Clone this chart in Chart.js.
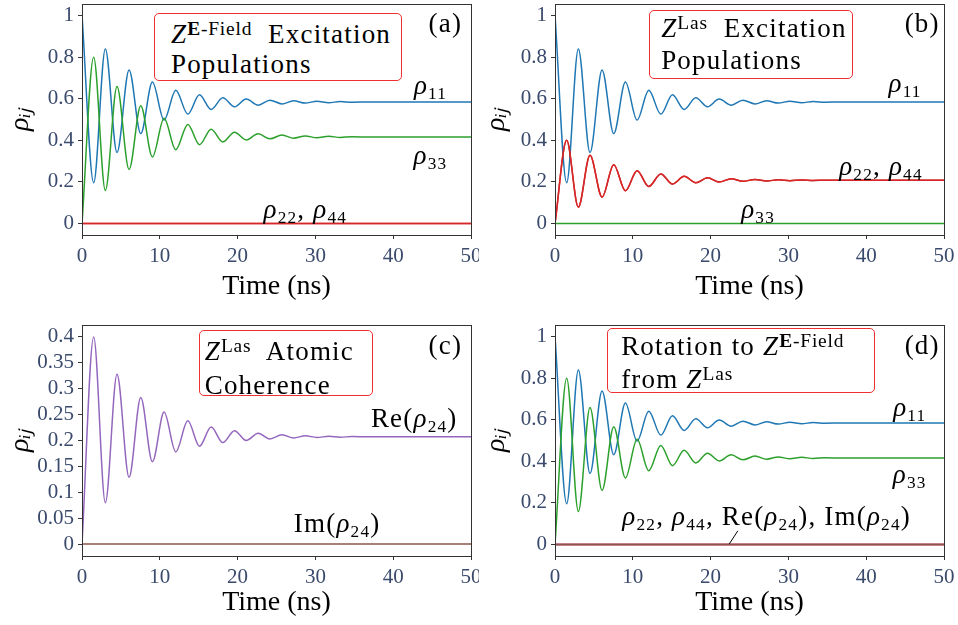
<!DOCTYPE html>
<html>
<head>
<meta charset="utf-8">
<title>Excitation populations</title>
<script src="https://cdn.jsdelivr.net/npm/chart.js@4.4.1/dist/chart.umd.min.js"></script>
<style>
    body { margin: 0; background: #fff; font-family: 'Liberation Serif', serif; }
    #fig { position: relative; width: 958px; height: 625px; overflow: hidden; }
    .panel { position: absolute; overflow: hidden; }
    .panel canvas { position: absolute; left: 0; top: 0; }
    .note {
        position: absolute;
        white-space: nowrap;
        font-family: 'Liberation Serif', serif;
        font-size: 27px;
        letter-spacing: 1.2px;
        line-height: 1;
        color: #000;
        transform: translate(-50%, -50%);
    }
    .note sub { font-size: 0.64em; vertical-align: -0.3em; line-height: 0; }
    .note sup { font-size: 0.72em; vertical-align: 0.42em; line-height: 0; letter-spacing: 0.8px; }
    .box {
        transform: none;
        border: 1.3px solid #f03030;
        border-radius: 5px;
        background: #fff;
        box-sizing: border-box;
    }
    #boxA { width: 248px; height: 68px; padding: 5px 0 0 16px; line-height: 30px; }
    #boxB { width: 204px; height: 69px; padding: 1px 0 0 11px; line-height: 32px; }
    #boxC { width: 174px; height: 66px; padding: 3px 0 0 5px; line-height: 34px; }
    #boxD { width: 268px; height: 65px; padding: 1px 0 0 13px; line-height: 33px; }
</style>
</head>
<body>
<div id="fig">
    <div class="panel" id="panelA" style="left:0;top:0;width:479px;height:310px">
        <canvas id="chartA"></canvas>
        <div class="note box" id="boxA"><div><i>Z</i><sup><b>E</b>-Field</sup>&nbsp; Excitation</div><div>Populations</div></div>
        <div class="note" id="tagA">(a)</div>
        <div class="note" id="a11"><i>ρ</i><sub>11</sub></div>
        <div class="note" id="a33"><i>ρ</i><sub>33</sub></div>
        <div class="note" id="a2244"><i>ρ</i><sub>22</sub>, <i>ρ</i><sub>44</sub></div>
    </div>
    <div class="panel" id="panelB" style="left:479px;top:0;width:479px;height:310px">
        <canvas id="chartB"></canvas>
        <div class="note box" id="boxB"><div><i>Z</i><sup>Las</sup>&nbsp; Excitation</div><div>Populations</div></div>
        <div class="note" id="tagB">(b)</div>
        <div class="note" id="b11"><i>ρ</i><sub>11</sub></div>
        <div class="note" id="b2244"><i>ρ</i><sub>22</sub>, <i>ρ</i><sub>44</sub></div>
        <div class="note" id="b33"><i>ρ</i><sub>33</sub></div>
    </div>
    <div class="panel" id="panelC" style="left:0;top:310px;width:479px;height:315px">
        <canvas id="chartC"></canvas>
        <div class="note box" id="boxC"><div><i>Z</i><sup>Las</sup>&nbsp; Atomic</div><div>Coherence</div></div>
        <div class="note" id="tagC">(c)</div>
        <div class="note" id="cRe">Re(<i>ρ</i><sub>24</sub>)</div>
        <div class="note" id="cIm">Im(<i>ρ</i><sub>24</sub>)</div>
    </div>
    <div class="panel" id="panelD" style="left:479px;top:310px;width:479px;height:315px">
        <canvas id="chartD"></canvas>
        <div class="note box" id="boxD"><div>Rotation to <i>Z</i><sup><b>E</b>-Field</sup></div><div>from <i>Z</i><sup>Las</sup></div></div>
        <div class="note" id="tagD">(d)</div>
        <div class="note" id="d11"><i>ρ</i><sub>11</sub></div>
        <div class="note" id="d33"><i>ρ</i><sub>33</sub></div>
        <div class="note" id="dZero"><i>ρ</i><sub>22</sub>, <i>ρ</i><sub>44</sub>, Re(<i>ρ</i><sub>24</sub>), Im(<i>ρ</i><sub>24</sub>)</div>
    </div>
</div>
<script>
// time of each turning point (ns)
const timeNs = [0, 1.5, 3.0, 4.5, 6.05, 7.55, 9.05, 10.55, 12.05, 13.6, 15.1, 16.6, 18.1, 19.6,
    21.1, 22.65, 24.15, 25.7, 27.2, 28.7, 30.2, 31.7, 33.2, 34.7, 37, 40, 45, 50];
const rho11 = [1, 0.196, 0.839, 0.341, 0.738, 0.432, 0.68, 0.497, 0.641, 0.526, 0.619, 0.548, 0.604, 0.561,
    0.598, 0.569, 0.593, 0.575, 0.59, 0.579, 0.588, 0.581, 0.586, 0.583, 0.584, 0.584, 0.584, 0.584];
const rho33 = [0, 0.799, 0.159, 0.658, 0.26, 0.566, 0.32, 0.506, 0.355, 0.476, 0.379, 0.453, 0.392, 0.439,
    0.402, 0.431, 0.407, 0.425, 0.41, 0.421, 0.412, 0.419, 0.414, 0.417, 0.416, 0.416, 0.416, 0.416];
const rho22 = [0, 0.40, 0.079, 0.328, 0.127, 0.283, 0.158, 0.254, 0.178, 0.238, 0.19, 0.227, 0.196, 0.22,
    0.2, 0.215, 0.203, 0.212, 0.205, 0.21, 0.206, 0.209, 0.207, 0.2085, 0.208, 0.208, 0.208, 0.208];
const reRho24 = [0, 0.40, 0.08, 0.328, 0.129, 0.283, 0.159, 0.255, 0.178, 0.238, 0.189, 0.226, 0.196, 0.219,
    0.2, 0.214, 0.203, 0.211, 0.205, 0.209, 0.206, 0.208, 0.2065, 0.2075, 0.207, 0.207, 0.207, 0.207];

// flat lines that stay on zero
const flatTime = [0, 50];
const flatZero = [0, 0];

const xTicks = [0, 10, 20, 30, 40, 50];
const yTicksPop = [0, 0.2, 0.4, 0.6, 0.8, 1];
const yTicksCoh = [0, 0.05, 0.1, 0.15, 0.2, 0.25, 0.3, 0.35, 0.4];

const BLUE = '#1f77b4', GREEN = '#2ca02c', RED = '#d62728', PURPLE = '#9467bd', BROWN = '#8c564b';
const SPINE = '#333333';
const TICK_COLOR = '#3a4a6c';
const SERIF = "'Liberation Serif', serif";

Chart.defaults.font.family = SERIF;

// frame on all four sides, html notes pinned to data coordinates, optional leader line
const figurePlugin = {
    id: 'figure',
    afterDraw(chart, args, opts) {
        const {ctx, chartArea} = chart;
        const {x, y} = chart.scales;
        ctx.save();
        ctx.strokeStyle = SPINE;
        ctx.lineWidth = 1;
        ctx.strokeRect(Math.round(chartArea.left) + 0.5, Math.round(chartArea.top) + 0.5,
            Math.round(chartArea.width), Math.round(chartArea.height));
        if (opts.leader) {
            const [p, q] = opts.leader;
            ctx.strokeStyle = '#000';
            ctx.beginPath();
            ctx.moveTo(x.getPixelForValue(p[0]), y.getPixelForValue(p[1]));
            ctx.lineTo(x.getPixelForValue(q[0]), y.getPixelForValue(q[1]));
            ctx.stroke();
        }
        ctx.restore();
        (opts.notes || []).forEach(n => {
            const el = document.getElementById(n.id);
            el.style.left = x.getPixelForValue(n.t) + 'px';
            el.style.top = y.getPixelForValue(n.v) + 'px';
        });
    }
};

function series(t, v, color) {
    return {
        data: t.map((tt, i) => ({x: tt, y: v[i]})),
        borderColor: color,
        borderWidth: 1.5,
        pointRadius: 0,
        fill: false,
        cubicInterpolationMode: 'monotone'
    };
}

function buildChart(canvasId, datasets, cfg) {
    // later series on top, as in the original plot
    datasets.forEach((d, i) => { d.order = datasets.length - i; });
    return new Chart(document.getElementById(canvasId), {
        type: 'line',
        data: {datasets: datasets},
        options: {
            responsive: true,
            maintainAspectRatio: false,
            animation: false,
            events: [],
            layout: {padding: cfg.pad},
            plugins: {
                legend: {display: false},
                tooltip: {enabled: false},
                figure: {notes: cfg.notes, leader: cfg.leader}
            },
            scales: {
                x: {
                    type: 'linear',
                    min: 0,
                    max: 50,
                    afterBuildTicks: s => { s.ticks = xTicks.map(v => ({value: v})); },
                    afterFit: s => { s.height = cfg.xHeight; s.paddingLeft = 0; s.paddingRight = 0; },
                    border: {display: false},
                    grid: {drawOnChartArea: false, drawTicks: true, tickLength: 4, color: SPINE},
                    ticks: {
                        autoSkip: false, maxRotation: 0, padding: 5, color: TICK_COLOR,
                        font: {family: SERIF, size: 21}
                    },
                    title: {
                        display: true, text: 'Time (ns)', color: '#000',
                        font: {family: SERIF, size: 28, lineHeight: 1},
                        padding: {top: 0, bottom: cfg.titlePad}
                    }
                },
                y: {
                    type: 'linear',
                    min: cfg.yMin,
                    max: cfg.yMax,
                    afterBuildTicks: s => { s.ticks = cfg.yTicks.map(v => ({value: v})); },
                    afterFit: s => { s.width = cfg.yWidth; s.paddingTop = 0; s.paddingBottom = 0; },
                    border: {display: false},
                    grid: {drawOnChartArea: false, drawTicks: true, tickLength: 4, color: SPINE},
                    ticks: {
                        autoSkip: false, padding: 4, color: TICK_COLOR,
                        font: {family: SERIF, size: 21},
                        callback: v => String(v)
                    },
                    title: {
                        display: true, text: 'ρᵢⱼ', color: '#000',
                        font: {family: SERIF, size: 28, style: 'italic', lineHeight: 1},
                        padding: {top: cfg.yTitlePad, bottom: 0}
                    }
                }
            }
        },
        plugins: [figurePlugin]
    });
}

function drawAll() {
    // (a) E-field frame
    buildChart('chartA', [
        series(timeNs, rho11, BLUE),
        series(flatTime, flatZero, RED),
        series(timeNs, rho33, GREEN),
        series(flatTime, flatZero, RED)
    ], {
        pad: {left: 0, right: 8, top: 4, bottom: 0},
        xHeight: 75, titlePad: 9, yWidth: 82, yTitlePad: 7,
        yMin: -0.055, yMax: 1.055, yTicks: yTicksPop,
        notes: [
            {id: 'boxA', t: 9.25, v: 1.013},
            {id: 'tagA', t: 46.7, v: 0.965},
            {id: 'a11', t: 44.8, v: 0.666},
            {id: 'a33', t: 44.8, v: 0.328},
            {id: 'a2244', t: 28.7, v: 0.072}
        ]
    });

    // (b) laser frame
    buildChart('chartB', [
        series(timeNs, rho11, BLUE),
        series(timeNs, rho22, RED),
        series(flatTime, flatZero, GREEN),
        series(timeNs, rho22, RED)
    ], {
        pad: {left: 0, right: 14, top: 4, bottom: 0},
        xHeight: 75, titlePad: 9, yWidth: 76, yTitlePad: 4,
        yMin: -0.055, yMax: 1.055, yTicks: yTicksPop,
        notes: [
            {id: 'boxB', t: 12.1, v: 1.027},
            {id: 'tagB', t: 47.2, v: 0.965},
            {id: 'b11', t: 45.0, v: 0.675},
            {id: 'b2244', t: 41.9, v: 0.275},
            {id: 'b33', t: 26.1, v: 0.072}
        ]
    });

    // (c) coherence
    buildChart('chartC', [
        series(timeNs, reRho24, PURPLE),
        series(flatTime, flatZero, BROWN)
    ], {
        pad: {left: 0, right: 8, top: 15, bottom: 0},
        xHeight: 69, titlePad: 8, yWidth: 82, yTitlePad: 7,
        yMin: -0.023, yMax: 0.423, yTicks: yTicksCoh,
        notes: [
            {id: 'boxC', t: 15.0, v: 0.413},
            {id: 'tagC', t: 46.7, v: 0.384},
            {id: 'cRe', t: 42.7, v: 0.243},
            {id: 'cIm', t: 32.8, v: 0.04}
        ]
    });

    // (d) rotated back to E-field frame
    buildChart('chartD', [
        series(timeNs, rho11, BLUE),
        series(flatTime, flatZero, RED),
        series(timeNs, rho33, GREEN),
        series(flatTime, flatZero, RED),
        series(flatTime, flatZero, PURPLE),
        series(flatTime, flatZero, BROWN)
    ], {
        pad: {left: 0, right: 14, top: 15, bottom: 0},
        xHeight: 69, titlePad: 8, yWidth: 76, yTitlePad: 4,
        yMin: -0.055, yMax: 1.055, yTicks: yTicksPop,
        notes: [
            {id: 'boxD', t: 6.7, v: 1.042},
            {id: 'tagD', t: 47.2, v: 0.96},
            {id: 'd11', t: 45.6, v: 0.66},
            {id: 'd33', t: 45.6, v: 0.34},
            {id: 'dZero', t: 27.2, v: 0.139}
        ],
        leader: [[22.4, 0.003], [23.5, 0.066]]
    });
}

document.fonts.load("26px 'Liberation Serif'").then(drawAll, drawAll);
</script>
</body>
</html>
